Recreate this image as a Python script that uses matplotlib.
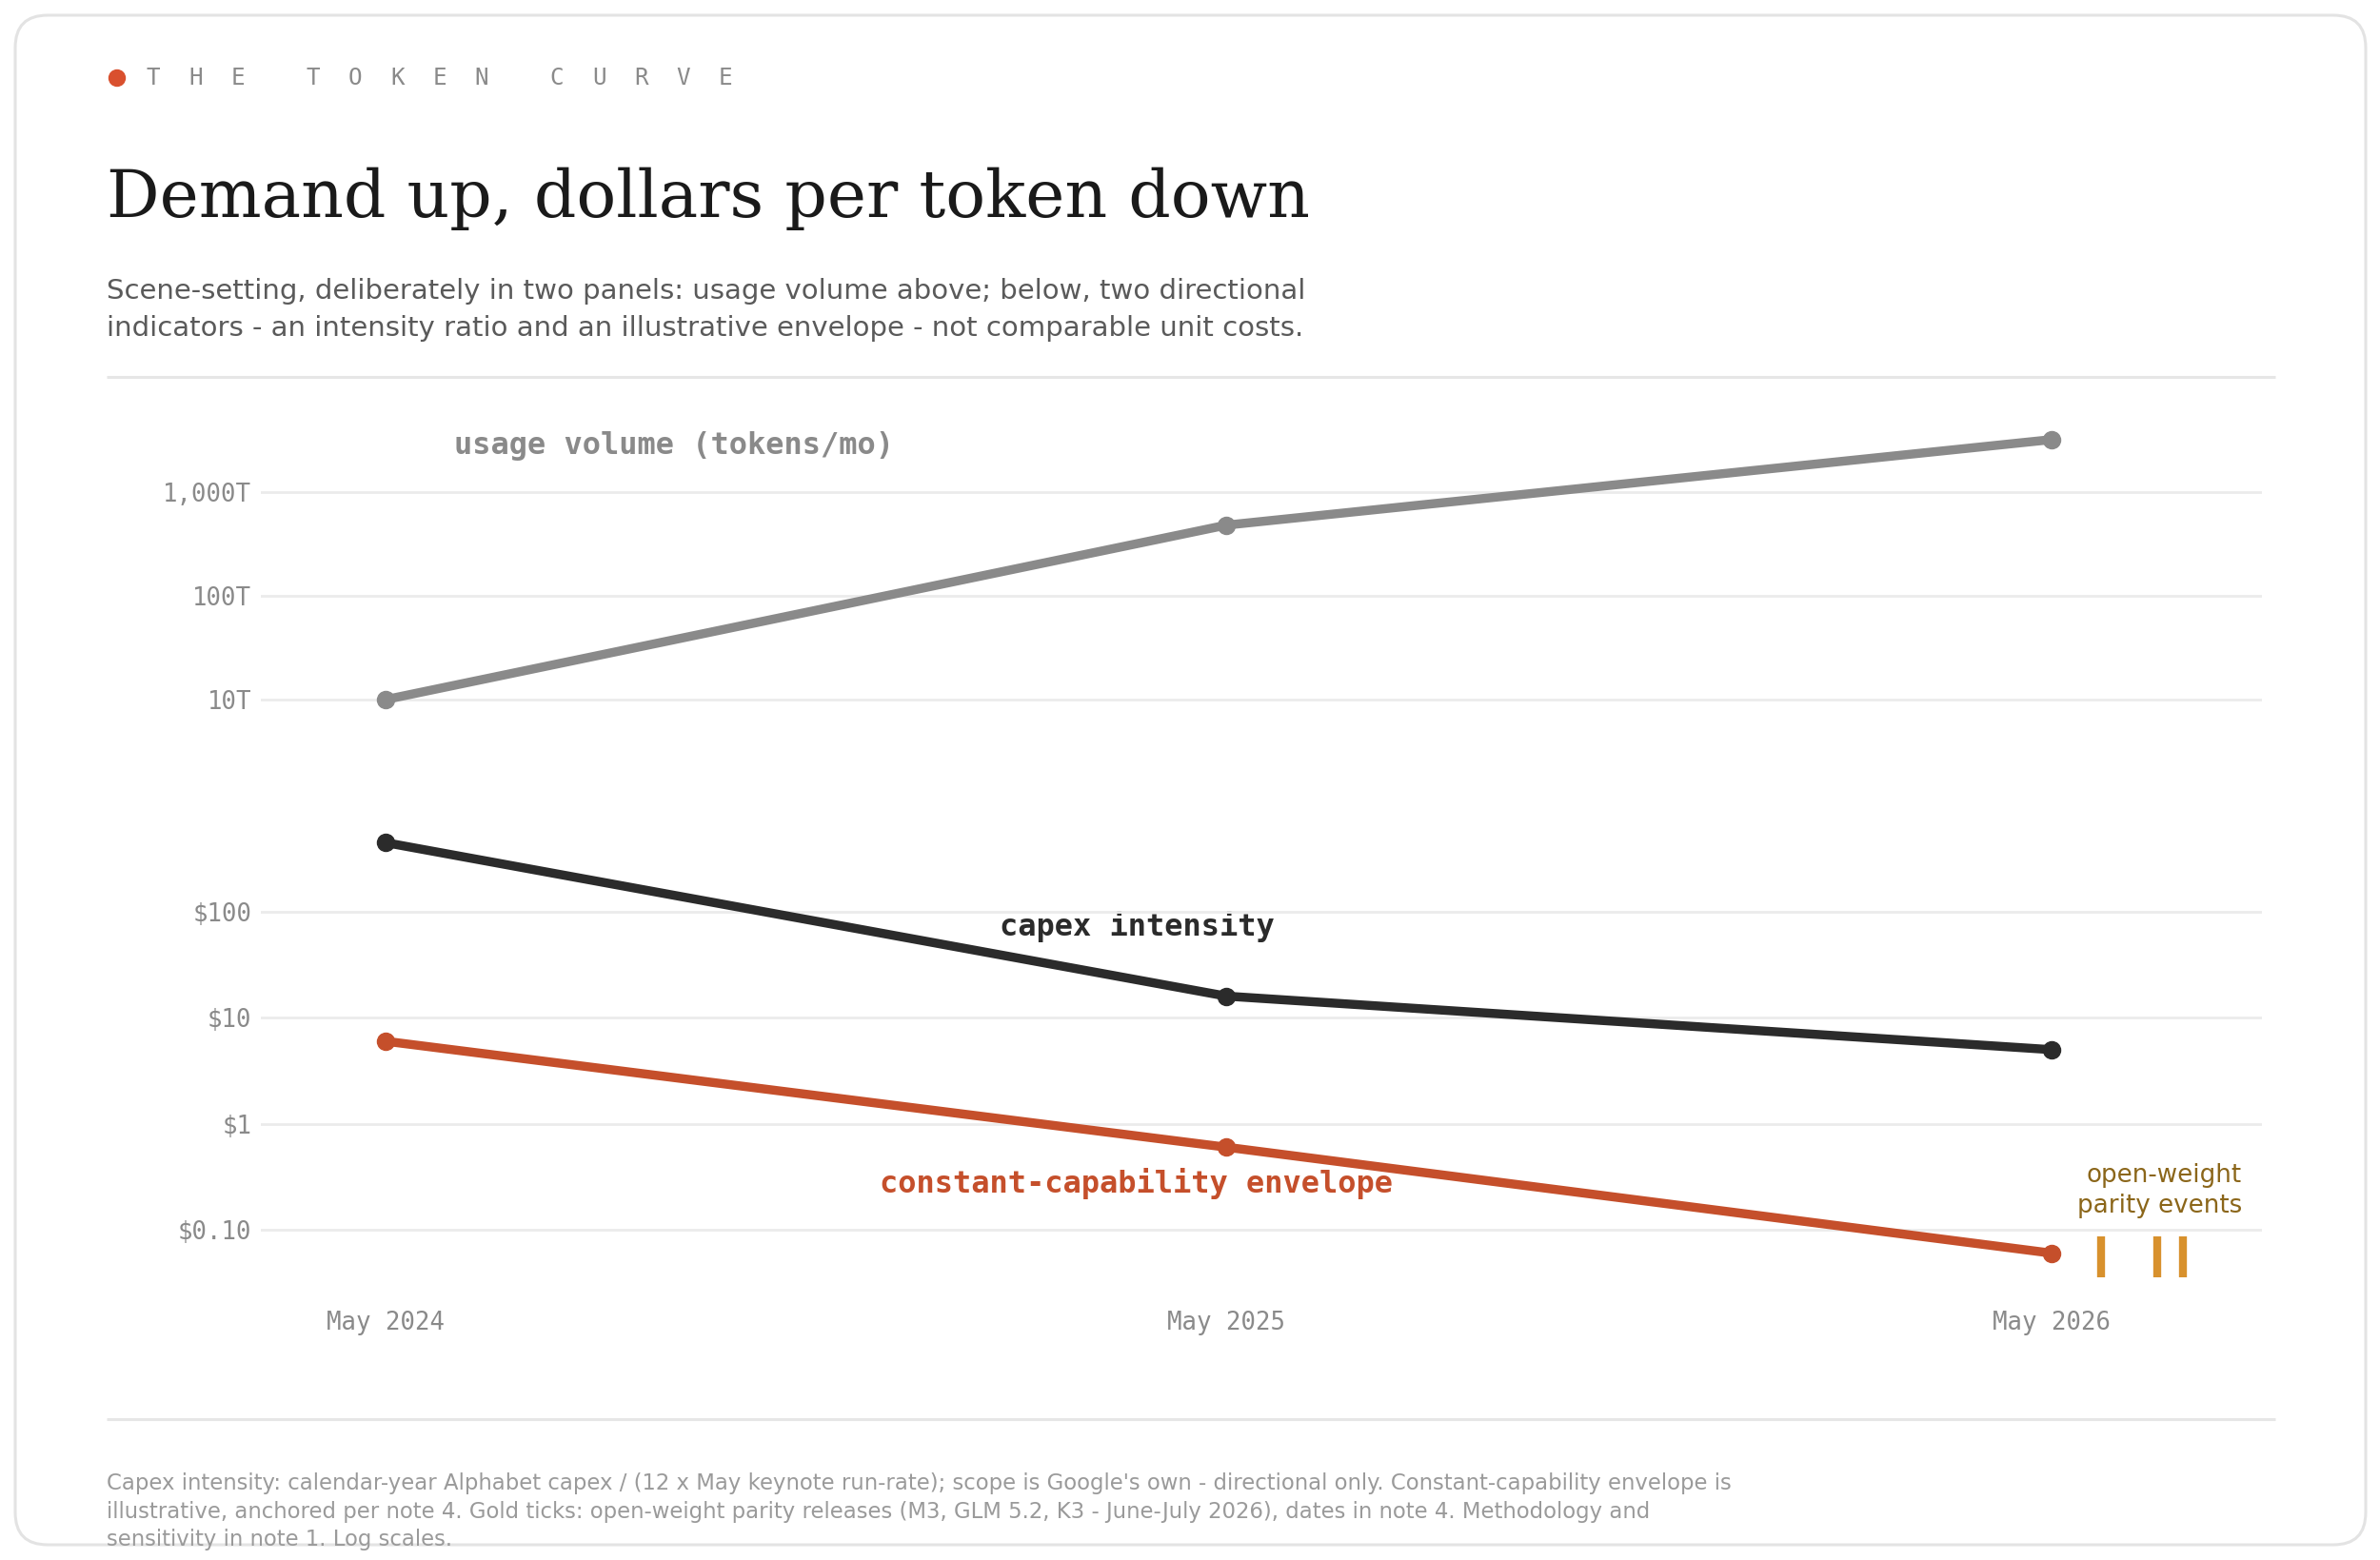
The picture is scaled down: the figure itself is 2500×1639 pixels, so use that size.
import matplotlib
matplotlib.use('Agg')
import matplotlib.pyplot as plt
import matplotlib.dates as mdates
from matplotlib.patches import FancyBboxPatch, Circle
from matplotlib.ticker import NullLocator
import datetime as dt

# ---------------- data ----------------
dates = ['2024-05-14', '2025-05-20', '2026-05-19']
date_labels = ['May 2024', 'May 2025', 'May 2026']
usage_T = [10, 480, 3200]            # tokens per month, trillions
capex_intensity = [450, 16, 5]       # $ (directional)
envelope = [6, 0.6, 0.06]            # $ (illustrative)
parity_dates = ['2026-06-10', '2026-07-05', '2026-07-16']
usage_ticks = [10, 100, 1000]
usage_tick_labels = ['10T', '100T', '1,000T']
cost_ticks = [0.1, 1, 10, 100]
cost_tick_labels = ['$0.10', '$1', '$10', '$100']
x_range = ['2024-03-20', '2026-08-20']

kicker = 'THE TOKEN CURVE'
title = 'Demand up, dollars per token down'
subtitle = ['Scene-setting, deliberately in two panels: usage volume above; below, two directional',
            'indicators - an intensity ratio and an illustrative envelope - not comparable unit costs.']
footnote = ["Capex intensity: calendar-year Alphabet capex / (12 x May keynote run-rate); scope is Google's own - directional only. Constant-capability envelope is",
            "illustrative, anchored per note 4. Gold ticks: open-weight parity releases (M3, GLM 5.2, K3 - June-July 2026), dates in note 4. Methodology and",
            "sensitivity in note 1. Log scales."]

# ---------------- styles ----------------
GRAY = '#8a8a8a'
DARK = '#2b2b2b'
RED = '#c54f2b'
GOLD = '#d8912d'
GOLD_TXT = '#8b661a'
GRID = '#ebebeb'
RULE = '#e6e6e6'
MONO = 'DejaVu Sans Mono'

def d2n(s):
    return mdates.date2num(dt.datetime.strptime(s, '%Y-%m-%d'))

x = [d2n(d) for d in dates]
px = [d2n(d) for d in parity_dates]

W, H = 2500, 1639
fig = plt.figure(figsize=(25, 16.39), dpi=100)
fig.patch.set_facecolor('white')

# background / layout axes in pixel coordinates
bg = fig.add_axes([0, 0, 1, 1])
bg.set_xlim(0, W)
bg.set_ylim(H, 0)
bg.axis('off')

card = FancyBboxPatch((16, 16), 2469, 1607, boxstyle='round,pad=0,rounding_size=34',
                      fc='white', ec='#e3e3e3', lw=2.2)
bg.add_patch(card)
bg.add_patch(Circle((123, 82), 8.5, color='#d9502e'))

kx = 154
for ch in kicker:
    if ch == ' ':
        kx += 35
        continue
    bg.text(kx, 89, ch, family=MONO, fontsize=17.5, color=GRAY, va='baseline', ha='left')
    kx += 44.2

bg.text(112, 228, title, family='DejaVu Serif', fontsize=50, color='#1a1a1a', va='baseline')
for i, line in enumerate(subtitle):
    bg.text(112, 314 + 39 * i, line, family='DejaVu Sans', fontsize=21, color='#5a5a5a', va='baseline')

bg.plot([112, 2390], [396, 396], color=RULE, lw=2.2, solid_capstyle='butt')
bg.plot([112, 2390], [1491, 1491], color=RULE, lw=2.2, solid_capstyle='butt')

for i, line in enumerate(footnote):
    bg.text(112, 1565 + 29.5 * i, line, family='DejaVu Sans', fontsize=16.4, color='#9a9a9a', va='baseline')

# series labels
bg.text(477, 477, 'usage volume (tokens/mo)', family=MONO, fontweight='bold', fontsize=23,
        color=GRAY, va='baseline', ha='left')
bg.text(1194, 983, 'capex intensity', family=MONO, fontweight='bold', fontsize=23,
        color=DARK, va='baseline', ha='center')
bg.text(1193, 1253, 'constant-capability envelope', family=MONO, fontweight='bold', fontsize=23,
        color=RED, va='baseline', ha='center')
bg.text(2355, 1242, 'open-weight', family='DejaVu Sans', fontsize=18.8, color=GOLD_TXT,
        va='baseline', ha='right')
bg.text(2355, 1274, 'parity events', family='DejaVu Sans', fontsize=18.8, color=GOLD_TXT,
        va='baseline', ha='right')

# chart axes
left = 274 / W
width = 2102 / W
ax1 = fig.add_axes([left, 1 - 800 / H, width, 360 / H])
ax2 = fig.add_axes([left, 1 - 1360 / H, width, 520 / H])

for ax in (ax1, ax2):
    ax.set_facecolor('none')
    for s in ax.spines.values():
        s.set_visible(False)
    ax.set_yscale('log')
    ax.set_xlim(d2n(x_range[0]), d2n(x_range[1]))
    ax.yaxis.grid(True, color=GRID, lw=2)
    ax.xaxis.grid(False)
    ax.set_axisbelow(True)
    ax.tick_params(axis='both', length=0)
    ax.tick_params(axis='y', pad=7, labelsize=18.5, labelcolor=GRAY)

ax1.set_ylim(10 ** 0.404, 10 ** 3.706)
ax2.set_ylim(10 ** -1.612, 10 ** 3.060)

ax1.set_yticks(usage_ticks, usage_tick_labels)
ax2.set_yticks(cost_ticks, cost_tick_labels)
for ax in (ax1, ax2):
    ax.yaxis.set_minor_locator(NullLocator())
    for lbl in ax.get_yticklabels():
        lbl.set_fontfamily(MONO)

ax1.set_xticks([])
ax2.set_xticks(x, date_labels)
ax2.tick_params(axis='x', pad=12, labelsize=18.5, labelcolor=GRAY)
for lbl in ax2.get_xticklabels():
    lbl.set_fontfamily(MONO)

lw = 6.8
ms = 13
ax1.plot(x, usage_T, color=GRAY, lw=lw, marker='o', ms=ms, solid_capstyle='round', zorder=3)
ax2.plot(x, capex_intensity, color=DARK, lw=lw, marker='o', ms=ms, solid_capstyle='round', zorder=3)
ax2.plot(x, envelope, color=RED, lw=lw, marker='o', ms=ms, solid_capstyle='round', zorder=3)

tr = ax2.get_xaxis_transform()
for p in px:
    ax2.plot([p, p], [0.0346, 0.1173], transform=tr, color=GOLD, lw=6, solid_capstyle='butt', zorder=3)

fig.savefig('out.png', dpi=100, facecolor='white')
